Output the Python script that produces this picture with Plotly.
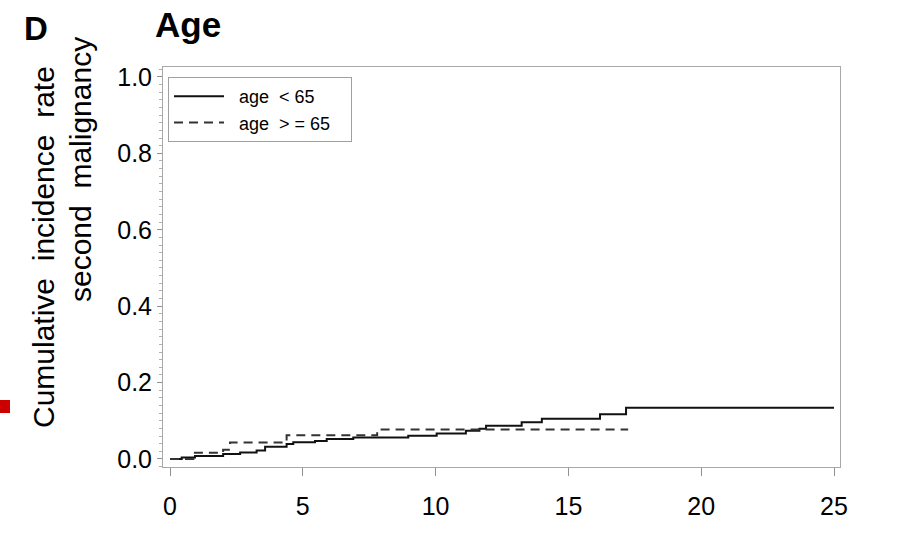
import plotly.graph_objects as go

# Cumulative incidence of second malignancy by age group (step functions)
years_under65 = [0, 0.44, 0.94, 2.0, 2.64, 3.26, 3.58, 4.39, 4.64, 5.46, 5.9, 6.9,
                 8.97, 10.04, 11.14, 11.65, 11.9, 13.24, 14.0, 16.19, 17.17, 25.0]
cif_under65 = [0, 0.004, 0.008, 0.013, 0.017, 0.022, 0.032, 0.039, 0.044, 0.047, 0.052, 0.056,
               0.061, 0.067, 0.074, 0.079, 0.087, 0.096, 0.105, 0.117, 0.134, 0.134]

years_65plus = [0, 0.88, 2.0, 2.26, 4.39, 7.8, 17.25]
cif_65plus = [0, 0.016, 0.024, 0.043, 0.062, 0.077, 0.077]

x_ticks = [0, 5, 10, 15, 20, 25]
y_ticks = [0.0, 0.2, 0.4, 0.6, 0.8, 1.0]
y_tick_text = ["0.0", "0.2", "0.4", "0.6", "0.8", "1.0"]

FONT = "Liberation Sans, Arial, Helvetica, sans-serif"
W, H = 914, 541
ML, MR, MT, MB = 163, 74, 67, 74
PW, PH = W - ML - MR, H - MT - MB


def px(x):
    return (x - ML) / PW


def py(y):
    return (H - MB - y) / PH


NB = "\u00a0"

fig = go.Figure()
fig.add_trace(go.Scatter(
    x=years_under65, y=cif_under65, mode="lines", line_shape="hv",
    line=dict(color="#111111", width=2),
    name=NB * 2 + "age" + NB * 2 + "&lt;" + NB + "65" + NB * 3))
fig.add_trace(go.Scatter(
    x=years_65plus, y=cif_65plus, mode="lines", line_shape="hv",
    line=dict(color="#333333", width=2, dash="9px,6px"),
    name=NB * 2 + "age" + NB * 2 + "&gt;" + NB + "=" + NB + "65" + NB * 3))

fig.update_layout(
    width=W, height=H,
    margin=dict(l=ML, r=MR, t=MT, b=MB),
    paper_bgcolor="white", plot_bgcolor="white",
    font=dict(family=FONT, color="black"),
    showlegend=True,
    legend=dict(x=px(168), y=py(77), xanchor="left", yanchor="top",
                bordercolor="#a0a0a0", borderwidth=1, bgcolor="white",
                font=dict(size=18, family=FONT), itemwidth=50,
                tracegroupgap=0),
    xaxis=dict(range=[-0.264, 25.226], tickvals=x_ticks,
               ticks="outside", ticklen=8, tickcolor="#909090",
               showline=True, mirror=True, linecolor="#a8a8a8", linewidth=1,
               showgrid=False, zeroline=False,
               tickfont=dict(size=25, family=FONT), ticklabelstandoff=9),
    yaxis=dict(range=[-0.021, 1.026], tickvals=y_ticks, ticktext=y_tick_text,
               ticks="outside", ticklen=5, tickcolor="#909090",
               minor=dict(dtick=0.02, ticks="outside", ticklen=3, tickcolor="#b0b0b0"),
               showline=True, mirror=True, linecolor="#a8a8a8", linewidth=1,
               showgrid=False, zeroline=False,
               tickfont=dict(size=25, family=FONT), ticklabelstandoff=0),
    shapes=[dict(type="rect", xref="paper", yref="paper",
                 x0=px(0), x1=px(10), y0=py(413), y1=py(400),
                 fillcolor="#cc0000", line=dict(width=0))],
    annotations=[
        dict(text="<b>D</b>", xref="paper", yref="paper", x=px(36), y=py(28),
             xanchor="center", yanchor="middle", showarrow=False,
             font=dict(size=33, family=FONT)),
        dict(text="<b>Age</b>", xref="paper", yref="paper", x=px(153), y=py(24),
             xanchor="left", yanchor="middle", showarrow=False,
             font=dict(size=35, family=FONT)),
        dict(text="Cumulative" + NB * 2 + "incidence" + NB * 2 + "rate",
             xref="paper", yref="paper",
             x=px(44), y=py(247), xanchor="center", yanchor="middle",
             textangle=-90, showarrow=False, font=dict(size=30, family=FONT)),
        dict(text="second" + NB * 2 + "malignancy", xref="paper", yref="paper",
             x=px(80), y=py(170), xanchor="center", yanchor="middle",
             textangle=-90, showarrow=False, font=dict(size=30, family=FONT)),
    ],
)

fig.write_html("out.html")
